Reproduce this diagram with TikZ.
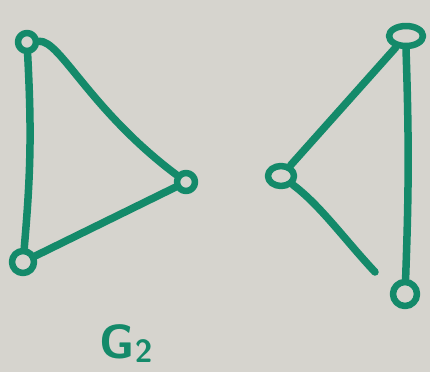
\documentclass[tikz,border=0pt]{standalone}
\usetikzlibrary{shapes.geometric}
\definecolor{chalk}{RGB}{214,212,206}
\definecolor{marker}{RGB}{20,138,106}
\begin{document}
\begin{tikzpicture}[x=1pt, y=-1pt, line cap=round, line join=round,
  vtx/.style={draw=marker, line width=6.5pt, circle, inner sep=0pt, minimum size=18pt},
  ovtx/.style={draw=marker, line width=6.5pt, ellipse, inner sep=0pt, minimum width=#1, minimum height=20pt},
  edge/.style={draw=marker, line width=7.5pt}]
  \fill[chalk] (0,0) rectangle (430,372);
  \useasboundingbox (0,0) rectangle (430,372);
  % left graph
  \node[vtx] (a) at (27,42) {};
  \node[vtx, minimum size=22pt] (b) at (23,262) {};
  \node[vtx] (c) at (186,182) {};
  \draw[edge] (a) to[bend left=4] (b);
  \draw[edge] (a) .. controls (60,40) and (90,110) .. (c);
  \draw[edge] (b) -- (c);
  % right graph
  \node[ovtx=34pt] (d) at (406,36) {};
  \node[ovtx=26pt] (e) at (281,176) {};
  \node[vtx, minimum size=24pt] (f) at (405,294) {};
  \coordinate (fend) at (375,272);
  \draw[edge] (d) -- (e);
  \draw[edge] (d.south) to[bend left=2] (f);
  \draw[edge] (e) .. controls (320,205) and (345,240) .. (fend);
  % label
  \node[text=marker, font=\fontsize{48}{48}\selectfont\sffamily\bfseries] (lbl) at (126,344) {G\raisebox{-4pt}{\fontsize{32}{32}\selectfont 2}};
\end{tikzpicture}
\end{document}
